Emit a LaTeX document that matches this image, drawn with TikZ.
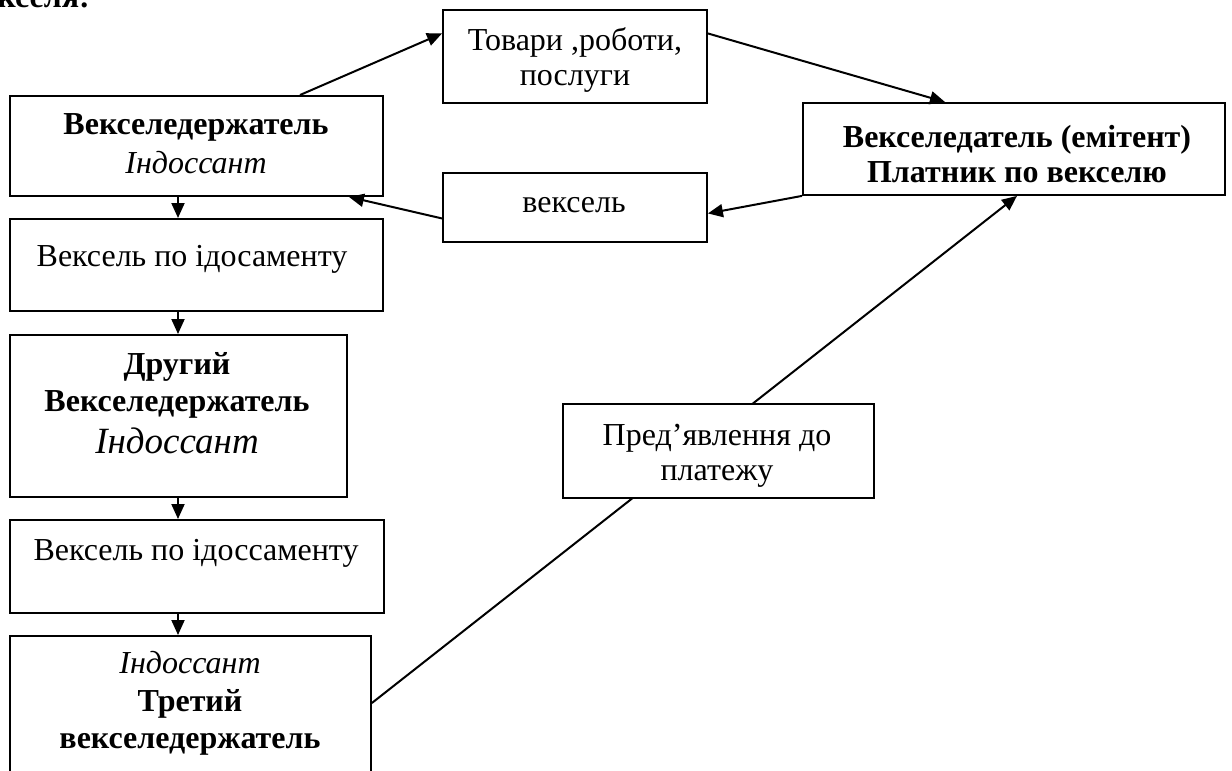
\documentclass[tikz,border=0pt]{standalone}
\usepackage{fontspec}
\setmainfont{Liberation Serif}
\usetikzlibrary{arrows.meta}
\begin{document}
\begin{tikzpicture}[x=1pt,y=-1pt,
  box/.style={draw=black, line width=1.9pt, rectangle, fill=white, inner sep=0pt, anchor=north west},
  txt/.style={anchor=base, inner sep=0pt, font=\fontsize{32}{36}\selectfont},
  btxt/.style={txt, font=\fontsize{32}{36}\selectfont\bfseries},
  itxt/.style={txt, font=\fontsize{32}{36}\selectfont\itshape},
  arr/.style={line width=2pt, -{Triangle[length=15pt,width=13pt]}},
  ]
\useasboundingbox (0,0) rectangle (1232,771);

% cropped heading fragment
\node[btxt, anchor=base east] (head) at (90,8) {векселя:};

% left column
\node[box, minimum width=373pt, minimum height=100pt] (b1) at (9,95) {};
\node[box, minimum width=373pt, minimum height=92pt] (b2) at (9,218) {};
\node[box, minimum width=337pt, minimum height=162pt] (b3) at (9,334) {};
\node[box, minimum width=374pt, minimum height=93pt] (b4) at (9,519) {};
\node[box, minimum width=361pt, minimum height=180pt] (b5) at (9,635) {};

\node[btxt] (t1a) at (196,134) {Векселедержатель};
\node[itxt] (t1b) at (196,173) {Індоссант};
\node[txt] (t2) at (192,266) {Вексель по ідосаменту};
\node[btxt] (t3a) at (177,374) {Другий};
\node[btxt] (t3b) at (177,411) {Векселедержатель};
\node[txt, font=\fontsize{37}{42}\selectfont\itshape] (t3c) at (177,453) {Індоссант};
\node[txt] (t4) at (196,560) {Вексель по ідоссаменту};
\node[itxt] (t5a) at (190,673) {Індоссант};
\node[btxt] (t5b) at (190,711) {Третий};
\node[btxt] (t5c) at (190,748) {векселедержатель};

% right part
\node[box, minimum width=264pt, minimum height=93pt] (tov) at (442,9) {};
\node[txt] (ttov1) at (575,50) {Товари ,роботи,};
\node[txt] (ttov2) at (575,85) {послуги};

\node[box, minimum width=264pt, minimum height=69pt] (vek) at (442,172) {};
\node[txt] (tvek) at (574,212) {вексель};

\node[box, minimum width=422pt, minimum height=92pt] (plat) at (802,102) {};
\node[btxt] (tplat1) at (1017,147) {Векселедатель (емітент)};
\node[btxt] (tplat2) at (1017,182) {Платник по векселю};

% arrows in the left column
\draw[arr] ([xshift=169pt]b1.south west) -- ([xshift=169pt]b2.north west);
\draw[arr] ([xshift=169pt]b2.south west) -- ([xshift=169pt]b3.north west);
\draw[arr] ([xshift=169pt]b3.south west) -- ([xshift=169pt]b4.north west);
\draw[arr] ([xshift=169pt]b4.south west) -- ([xshift=169pt]b5.north west);

% cycle arrows
\draw[arr] ([xshift=291pt]b1.north west) -- ([yshift=23pt]tov.west);
\draw[arr] ([yshift=23pt]tov.east) -- ([xshift=143pt]plat.north west);
\draw[arr] (plat.south west) -- ([yshift=-6pt]vek.east);
\draw[arr] ([yshift=-11pt]vek.west) -- ([xshift=-35pt]b1.south east);

% presentation for payment
\draw[arr] ([yshift=-68pt]b5.north east) -- ([xshift=215pt]plat.south west);
\node[box, minimum width=311pt, minimum height=94pt] (pred) at (562,403) {};
\node[txt] (tpred1) at (717,445) {Пред’явлення до};
\node[txt] (tpred2) at (717,480) {платежу};
\end{tikzpicture}
\end{document}
